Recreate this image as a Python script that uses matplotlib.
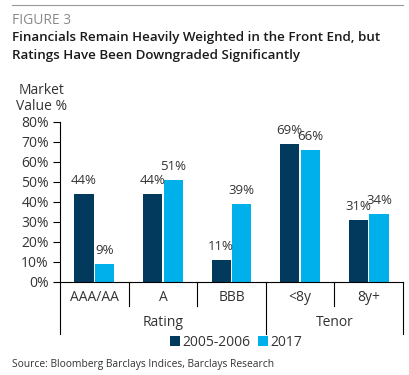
import matplotlib
matplotlib.use("Agg")
import matplotlib.pyplot as plt
import matplotlib.transforms as mtransforms
from matplotlib.lines import Line2D
from matplotlib.patches import Patch
import numpy as np

plt.rcParams['font.family'] = ['Open Sans', 'DejaVu Sans']

categories = ["AAA/AA", "A", "BBB", "<8y", "8y+"]
groups = ["Rating", "Tenor"]
series_names = ["2005-2006", "2017"]
vals_0506 = [44, 44, 11, 69, 31]
vals_2017 = [9, 51, 39, 66, 34]
yticks = [0, 10, 20, 30, 40, 50, 60, 70, 80]

c_dark = "#023a5e"
c_light = "#00b0ea"
txt = "#333333"

W, H = 409, 375
fig = plt.figure(figsize=(W / 100, H / 100), dpi=100)

def px(x0, y0, x1, y1):
    return [x0 / W, 1 - y1 / H, (x1 - x0) / W, (y1 - y0) / H]

ax = fig.add_axes(px(60, 121.5, 403, 281.5))
x = np.arange(len(categories))
bw = 0.28
b1 = ax.bar(x - bw / 2 - 0.01, vals_0506, bw, color=c_dark)
b2 = ax.bar(x + bw / 2 + 0.01, vals_2017, bw, color=c_light)
for bars, vals in ((b1, vals_0506), (b2, vals_2017)):
    for b, v in zip(bars, vals):
        ax.text(b.get_x() + b.get_width() / 2, v + 3, f"{v}%", ha="center",
                va="bottom", fontsize=9.5, color=txt)

ax.set_xlim(-0.5, len(categories) - 0.5)
ax.set_ylim(0, 80)
ax.set_yticks(yticks)
ax.set_yticklabels([f"{t}%" for t in yticks], fontsize=10, color=txt)
ax.tick_params(axis="y", length=5, width=0.8, color="black", pad=3)
ax.set_xticks([])
for s in ("top", "right"):
    ax.spines[s].set_visible(False)
for s in ("left", "bottom"):
    ax.spines[s].set_linewidth(0.8)

trans = mtransforms.blended_transform_factory(ax.transData, ax.transAxes)
for i, c in enumerate(categories):
    ax.text(i, -0.1, c, transform=trans, ha="center", va="center",
            fontsize=10, color=txt)
short = 24 / 160
long_ = 52 / 160
for b in [0.5, 1.5, 3.5]:
    ax.plot([b, b], [0, -short], transform=trans, color="black", lw=0.8, clip_on=False)
for b in [-0.5, 2.5, 4.5]:
    ax.plot([b, b], [0, -long_], transform=trans, color="black", lw=0.8, clip_on=False)
ax.text(1.0, -41.5 / 160, groups[0], transform=trans, ha="center", va="center",
        fontsize=10, color=txt)
ax.text(3.5, -41.5 / 160, groups[1], transform=trans, ha="center", va="center",
        fontsize=10, color=txt)

fig.text(42 / W, 1 - 90 / H, "Market", ha="center", va="center", fontsize=10, color=txt)
fig.text(42 / W, 1 - 107 / H, "Value %", ha="center", va="center", fontsize=10, color=txt)

handles = [Patch(facecolor=c_dark), Patch(facecolor=c_light)]
fig.legend(handles, series_names, loc="center", bbox_to_anchor=(236 / W, 1 - 342 / H),
           ncol=2, frameon=False, fontsize=10, handlelength=0.7, handleheight=0.7,
           handletextpad=0.15, columnspacing=0.6, labelcolor=txt)

fig.add_artist(Line2D([12 / W, 403 / W], [1 - 5 / H, 1 - 5 / H], color="#999999", lw=0.8))
fig.text(12 / W, 1 - 20 / H, "FIGURE 3", ha="left", va="center", fontsize=10, color="#8a8a8a")
fig.text(12 / W, 1 - 37 / H, "Financials Remain Heavily Weighted in the Front End, but",
         ha="left", va="center", fontsize=9.6, fontweight="semibold", color="#1a1a1a")
fig.text(12 / W, 1 - 55 / H, "Ratings Have Been Downgraded Significantly",
         ha="left", va="center", fontsize=9.6, fontweight="semibold", color="#1a1a1a")
fig.text(12 / W, 1 - 364 / H, "Source: Bloomberg Barclays Indices, Barclays Research",
         ha="left", va="center", fontsize=7.4, color=txt)

fig.savefig("out.png", dpi=100)
